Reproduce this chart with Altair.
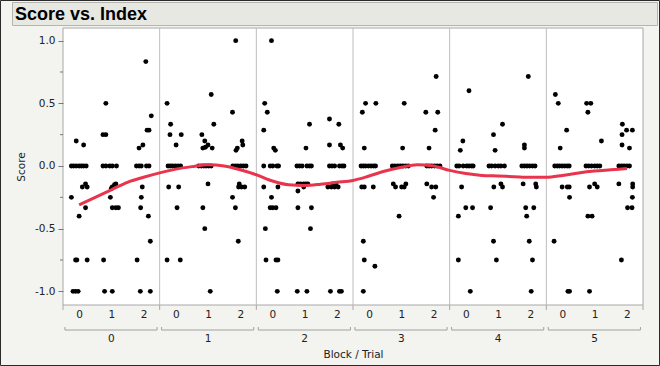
import altair as alt
import pandas as pd

# ---------------- data ----------------
blocks = [0, 1, 2, 3, 4, 5]

b0_pos = [0.41,0.64,0.26,0.33,0.41,0.50,0.57,0.64,0.72,0.70,0.60,0.75,0.26,0.50,0.70,0.39,0.43,0.75,0.31,0.39,0.47,
          1.33,1.24,1.33,1.24,1.33,1.45,1.53,1.66,1.64,1.53,1.60,1.50,1.47,1.53,1.64,1.72,1.26,1.29,1.53,
          2.57,2.74,2.61,2.67,2.48,2.36,2.28,2.36,2.43,2.59,2.67,2.46,2.43,2.41,2.65,2.71,2.30,2.40,2.71]
b0_score = [0.2,0.167,0,0,0,0,0,0,0,-0.143,-0.167,-0.167,-0.25,-0.4,-0.333,-0.75,-0.75,-0.75,-1,-1,-1,
            0.5,0.25,0.25,0,0,0,0,0,-0.143,-0.167,-0.15,-0.18,-0.25,-0.333,-0.333,-0.333,-0.75,-1,-1,
            0.833,0.4,0.286,0.286,0.167,0.143,0,0,0,0,0,-0.167,-0.25,-0.333,-0.4,-0.6,-0.75,-1,-1]

b1_pos = [0.23,0.34,0.32,0.67,0.51,0.26,0.33,0.40,0.49,0.57,0.65,0.28,0.59,0.54,0.23,0.64,
          1.60,1.68,1.31,1.40,1.50,1.34,1.42,1.63,1.21,1.29,1.37,1.44,1.52,1.60,1.50,1.34,1.40,1.57,
          2.36,2.26,2.56,2.58,2.41,2.37,2.27,2.35,2.43,2.52,2.60,2.68,2.47,2.45,2.54,2.64,2.26,2.35,2.44]
b1_score = [0.5,0.333,0.25,0.25,0.167,0,0,0,0,0,0,-0.167,-0.167,-0.333,-0.75,-0.75,
            0.571,0.333,0.25,0.2,0.167,0.143,0.15,0.143,0,0,0,0,0,0,-0.143,-0.333,-0.5,-1,
            1.0,0.429,0.2,0.167,0.143,0.125,0,0,0,0,0,0,-0.143,-0.167,-0.167,-0.167,-0.25,-0.333,-0.6]

b2_pos = [0.47,0.26,0.34,0.23,0.54,0.59,0.23,0.43,0.51,0.64,0.69,0.23,0.67,0.47,0.43,0.51,0.61,0.28,0.30,0.61,0.67,0.65,
          1.65,1.54,1.26,1.34,1.42,1.57,1.65,1.71,1.29,1.37,1.47,1.54,1.60,1.29,1.47,1.29,1.71,1.68,1.27,1.57,
          2.27,2.56,2.27,2.61,2.68,2.27,2.35,2.43,2.58,2.66,2.72,2.22,2.33,2.43,2.54,2.37,2.47,2.30,2.58,2.64]
b2_score = [1.0,0.5,0.429,0.286,0.143,0.125,0,0,0,0,0,-0.167,-0.167,-0.25,-0.333,-0.333,-0.333,-0.5,-0.75,-0.75,-0.75,-1,
            0.333,0.143,0,0,0,0,0,0,-0.143,-0.143,-0.143,-0.143,-0.143,-0.2,-0.167,-0.333,-0.333,-0.5,-1,-1,
            0.375,0.333,0.167,0.167,0.143,0,0,0,0,0,0,-0.167,-0.167,-0.167,-0.167,-0.143,-0.143,-1,-1,-1]

b3_pos = [0.39,0.71,0.29,0.35,0.25,0.32,0.39,0.48,0.56,0.64,0.70,0.27,0.35,0.63,0.32,0.35,0.68,0.32,
          1.59,1.54,1.22,1.30,1.39,1.47,1.55,1.64,1.72,1.25,1.32,1.51,1.59,1.64,1.43,
          2.58,2.26,2.63,2.55,2.36,2.29,2.36,2.44,2.53,2.61,2.70,2.29,2.44,2.57,2.50]
b3_score = [0.5,0.5,0.429,0.143,0,0,0,0,0,0,0,-0.167,-0.167,-0.167,-0.6,-0.75,-0.8,-1,
            0.5,0.143,0,0,0,0,0,0,0,-0.143,-0.167,-0.167,-0.167,-0.143,-0.4,
            0.714,0.429,0.429,0.286,0.143,0,0,0,0,0,0,-0.143,-0.167,-0.167,-0.25]

b4_pos = [0.60,0.41,0.33,0.22,0.29,0.42,0.53,0.60,0.68,0.73,0.37,0.50,0.71,0.27,0.27,0.64,
          1.64,1.36,1.41,1.22,1.30,1.41,1.51,1.59,1.70,1.37,1.59,1.64,1.27,1.36,1.45,
          2.44,2.32,2.32,2.24,2.32,2.40,2.48,2.57,2.65,2.28,2.67,2.69,2.36,2.61,2.39,2.47,2.57,2.53]
b4_score = [0.6,0.2,0.125,0,0,0,0,0,0,0,-0.167,-0.333,-0.333,-0.4,-0.75,-1,
            0.333,0.25,0.125,0,0,0,0,0,0,-0.167,-0.143,-0.167,-0.333,-0.6,-0.75,
            0.714,0.167,0.143,0,0,0,0,0,0,-0.143,-0.143,-0.167,-0.333,-0.333,-0.4,-0.6,-0.75,-1]

b5_pos = [0.28,0.37,0.63,0.43,0.26,0.34,0.41,0.49,0.57,0.65,0.71,0.49,0.65,0.71,0.72,0.24,0.67,0.72,
          1.25,1.38,1.29,1.71,1.23,1.31,1.40,1.50,1.58,1.66,1.34,1.50,1.58,1.29,1.42,1.34,
          2.36,2.49,2.67,2.35,2.35,2.58,2.25,2.33,2.41,2.50,2.58,2.25,2.68,2.68,2.67,2.52,2.66,2.33]
b5_score = [0.571,0.5,0.286,0.143,0,0,0,0,0,0,0,-0.167,-0.167,-0.167,-0.25,-0.6,-1,-1,
            0.5,0.5,0.429,0.2,0,0,0,0,0,0,-0.167,-0.143,-0.167,-0.4,-0.4,-1,
            0.333,0.286,0.286,0.25,0.167,0.143,0,0,0,0,0,-0.143,-0.143,-0.167,-0.25,-0.333,-0.333,-0.75]

smooth_x = [0.5,1.0,1.5,2.0,2.5,3.0,3.5,4.0,4.5,5.0,5.5,6.0,6.5,7.0,7.5,8.0,8.5,9.0,9.5,10.0,
            10.5,11.0,11.5,12.0,12.5,13.0,13.5,14.0,14.5,15.0,15.5,16.0,16.5,17.0,17.5]
smooth_y = [-0.31,-0.25,-0.19,-0.13,-0.09,-0.055,-0.025,-0.005,0.01,0.0,-0.03,-0.07,-0.12,-0.15,-0.155,
            -0.145,-0.13,-0.115,-0.08,-0.04,-0.01,0.01,0.0,-0.035,-0.06,-0.075,-0.08,-0.085,-0.09,-0.09,
            -0.075,-0.055,-0.04,-0.03,-0.02]

trial_ticks = [i + 0.5 for i in range(18)]
block_bounds = [3, 6, 9, 12, 15]
all_bounds = [0, 3, 6, 9, 12, 15, 18]
minor_ticks = [-0.75, -0.25, 0.25, 0.75]
major_ticks = [-1, -0.5, 0, 0.5, 1]

# ---------------- tables ----------------
pos_lists = [b0_pos, b1_pos, b2_pos, b3_pos, b4_pos, b5_pos]
score_lists = [b0_score, b1_score, b2_score, b3_score, b4_score, b5_score]
rows = []
for b, ps, ss in zip(blocks, pos_lists, score_lists):
    for p, s in zip(ps, ss):
        rows.append({"x": b * 3 + p, "score": s})
pts = pd.DataFrame(rows)
smooth = pd.DataFrame({"x": smooth_x, "score": smooth_y})
blk = pd.DataFrame({"x": [b * 3 + 1.5 for b in blocks], "lab": [str(b) for b in blocks],
                    "xa": [b * 3 + 0.06 for b in blocks], "xb": [b * 3 + 2.92 for b in blocks]})
sep = pd.DataFrame({"x": block_bounds})
bnd = pd.DataFrame({"x": all_bounds})
minor = pd.DataFrame({"score": minor_ticks})
one = pd.DataFrame({"t": ["Score vs. Index"]})

W, H = 580, 277
FONT = "DejaVu Sans"

xscale = alt.Scale(domain=[0, 18], nice=False, zero=False)
yscale = alt.Scale(domain=[-1.109, 1.101], nice=False, zero=False)

xaxis = alt.Axis(values=trial_ticks, labelExpr="'' + (floor(datum.value) % 3)", ticks=False,
                 domain=False, grid=False, labelPadding=4, labelFont=FONT, labelFontSize=10.5,
                 labelColor="#222", title="Block / Trial", titleFont=FONT, titleFontSize=10.5,
                 titleFontWeight="normal", titleColor="#222", titlePadding=30, labelFlush=False,
                 zindex=2)
yaxis = alt.Axis(values=major_ticks,
                 labelExpr="datum.value < 0 ? '-' + format(-datum.value, '.1f') : format(datum.value, '.1f')",
                 tickSize=5, tickColor="#777", labelPadding=3, domain=False, grid=False,
                 labelFont=FONT, labelFontSize=10.5, labelColor="#222", title="Score", titleFont=FONT,
                 titleFontSize=10.5, titleFontWeight="normal", titleColor="#222", titlePadding=8,
                 zindex=2)


def XF(field):
    return alt.X(field + ":Q", scale=xscale, axis=xaxis)


X = XF("x")
Y = alt.Y("score:Q", scale=yscale, axis=yaxis)

border = alt.Chart(one).mark_rect(fill="#F3F3EF", stroke="#2a2a2a", strokeWidth=1).encode(
    x=alt.value(-62.5), x2=alt.value(596.5), y=alt.value(-27.5), y2=alt.value(337.5))
titlebox = alt.Chart(one).mark_rect(fill="#E8E8E3", stroke="#B5B5B0", strokeWidth=1).encode(
    x=alt.value(-50.5), x2=alt.value(594.5), y=alt.value(-25.5), y2=alt.value(-2.5))
title = alt.Chart(one).mark_text(align="left", baseline="alphabetic", font="Liberation Sans",
                                 fontSize=18, fontWeight="bold", color="#000").encode(
    x=alt.value(-48), y=alt.value(-8), text="t:N")
plotbg = alt.Chart(one).mark_rect(fill="white", stroke="#A8A8A8", strokeWidth=1).encode(
    x=alt.value(0), x2=alt.value(W), y=alt.value(0), y2=alt.value(H))

seps = alt.Chart(sep).mark_rule(color="#BDBDBD", strokeWidth=1).encode(
    x=X, y=alt.value(0), y2=alt.value(H))
bticks = alt.Chart(bnd).mark_rule(color="#A8A8A8", strokeWidth=1).encode(
    x=X, y=alt.value(H), y2=alt.value(H + 5))
yminor = alt.Chart(minor).mark_rule(color="#777", strokeWidth=1).encode(
    y=Y, x=alt.value(-3), x2=alt.value(0))

points = alt.Chart(pts).mark_circle(size=24, color="black", opacity=1).encode(x=X, y=Y)
line = alt.Chart(smooth).mark_line(color="#E8344C", strokeWidth=3, interpolate="monotone").encode(x=X, y=Y)

brackets = alt.Chart(blk).mark_rule(color="#A0A0A0", strokeWidth=1).encode(
    x=XF("xa"), x2="xb:Q", y=alt.value(H + 25))
bl = alt.Chart(blk).mark_rule(color="#A0A0A0", strokeWidth=1).encode(
    x=XF("xa"), y=alt.value(H + 22), y2=alt.value(H + 25))
br = alt.Chart(blk).mark_rule(color="#A0A0A0", strokeWidth=1).encode(
    x=XF("xb"), y=alt.value(H + 22), y2=alt.value(H + 25))
blabels = alt.Chart(blk).mark_text(font=FONT, fontSize=10.5, color="#222", baseline="middle").encode(
    x=X, y=alt.value(H + 34), text="lab:N")

chart = alt.layer(border, titlebox, title, plotbg, seps, bticks, yminor, points, line,
                  brackets, bl, br, blabels).properties(
    width=W, height=H, autosize=alt.AutoSizeParams(type="none"),
    padding={"left": 63, "top": 28, "right": 17, "bottom": 61},
    background="#F3F3EF",
).configure_view(stroke=None)

chart.save("out.html", embed_options={"renderer": "svg", "actions": False})
